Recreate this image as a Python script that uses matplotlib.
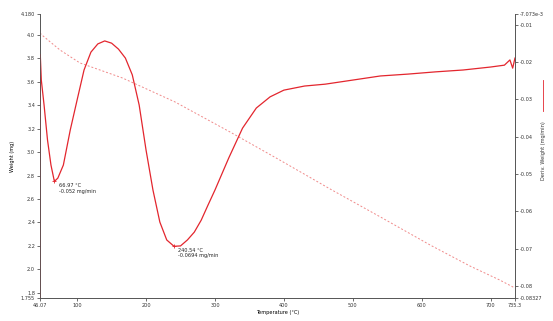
"""TGA / DTG curve: weight and derivative weight against temperature."""

import matplotlib

matplotlib.use("Agg")
import matplotlib.pyplot as plt
from matplotlib.lines import Line2D

# weight curve (mg)
weight_temp = [46.07, 49, 75, 104, 133, 166, 242, 322, 394, 467, 540, 612, 670, 713, 735.3]
weight_mg = [4.018, 4.0, 3.873, 3.762, 3.702, 3.633, 3.429, 3.172, 2.933, 2.686,
             2.447, 2.208, 2.028, 1.909, 1.84]

# derivative weight curve (mg/min)
deriv_temp = [46.07, 46.5, 48, 52, 57, 62, 66.97, 72, 80, 90, 100, 110, 120, 130, 140,
              150, 160, 170, 180, 190, 200, 210, 220, 230, 240.54, 250, 260, 270, 280,
              290, 300, 320, 340, 360, 380, 400, 430, 460, 500, 540, 580, 620, 660,
              700, 720, 728, 732, 735.3]
deriv_val = [-0.0833, -0.0180, -0.0248, -0.0315, -0.0409, -0.0476, -0.0520, -0.0511,
             -0.0476, -0.0382, -0.0301, -0.0221, -0.0173, -0.0151, -0.0143, -0.0149,
             -0.0165, -0.0189, -0.0234, -0.0315, -0.0436, -0.0543, -0.0629, -0.0677,
             -0.0694, -0.0693, -0.0677, -0.0656, -0.0624, -0.0583, -0.0543, -0.0457,
             -0.0377, -0.0323, -0.0293, -0.0275, -0.0264, -0.0259, -0.0248, -0.0237,
             -0.0232, -0.0226, -0.0221, -0.0213, -0.0208, -0.0194, -0.0216, -0.0189]

# labelled minima
peaks = [(66.97, -0.0520, "66.97 °C\n-0.052 mg/min"),
         (240.54, -0.0694, "240.54 °C\n-0.0694 mg/min")]

x_ticks = [46.07, 100, 200, 300, 400, 500, 600, 700, 735.3]
x_labels = ["46.07", "100", "200", "300", "400", "500", "600", "700", "735.3"]
w_ticks = [1.755, 1.8, 2.0, 2.2, 2.4, 2.6, 2.8, 3.0, 3.2, 3.4, 3.6, 3.8, 4.0, 4.180]
w_labels = ["1.755", "1.8", "2.0", "2.2", "2.4", "2.6", "2.8", "3.0", "3.2", "3.4",
            "3.6", "3.8", "4.0", "4.180"]
d_ticks = [-0.08327, -0.08, -0.07, -0.06, -0.05, -0.04, -0.03, -0.02, -0.01, -0.007073]
d_labels = ["-0.08327", "-0.08", "-0.07", "-0.06", "-0.05", "-0.04", "-0.03", "-0.02",
            "-0.01", "-7.073e-3"]

RED = "#e3262e"
PINK = "#f08a8a"
FS = 3.6

fig = plt.figure(figsize=(5.53, 3.21), dpi=100)
ax = fig.add_axes([0.0723, 0.0717, 0.8589, 0.8847])
ax2 = ax.twinx()

ax.plot(weight_temp, weight_mg, color=PINK, lw=0.7, ls=(0, (2, 2)))
ax2.plot(deriv_temp, deriv_val, color=RED, lw=0.9)

for t, v, txt in peaks:
    ax2.plot([t], [v], marker="+", color=RED, ms=3, mew=0.6)
    ax2.annotate(txt, (t, v), xytext=(3, -1), textcoords="offset points",
                 fontsize=FS, va="top", ha="left", color="#222222")

ax.set_xlim(x_ticks[0], x_ticks[-1])
ax.set_ylim(w_ticks[0], w_ticks[-1])
ax2.set_ylim(d_ticks[0], d_ticks[-1])

ax.set_xticks(x_ticks, x_labels)
ax.set_yticks(w_ticks, w_labels)
ax2.set_yticks(d_ticks, d_labels)

for a in (ax, ax2):
    a.tick_params(labelsize=FS, length=2, width=0.5, colors="#333333", pad=1.5)
    a.spines["top"].set_visible(False)
    for s in ("left", "right", "bottom"):
        a.spines[s].set_linewidth(0.6)
        a.spines[s].set_color("#555555")

ax.set_xlabel("Temperature (°C)", fontsize=FS, labelpad=1.5)
ax.set_ylabel("Weight (mg)", fontsize=FS, labelpad=4)

# right axis label with a small coloured key above it
fig.text(0.982, 0.53, "Deriv. Weight (mg/min)", fontsize=FS, rotation=90,
         ha="center", va="center", color="#333333")
fig.add_artist(Line2D([0.982, 0.982], [0.655, 0.75], transform=fig.transFigure,
                      color=RED, lw=0.6))

fig.savefig("out.png", dpi=100)
